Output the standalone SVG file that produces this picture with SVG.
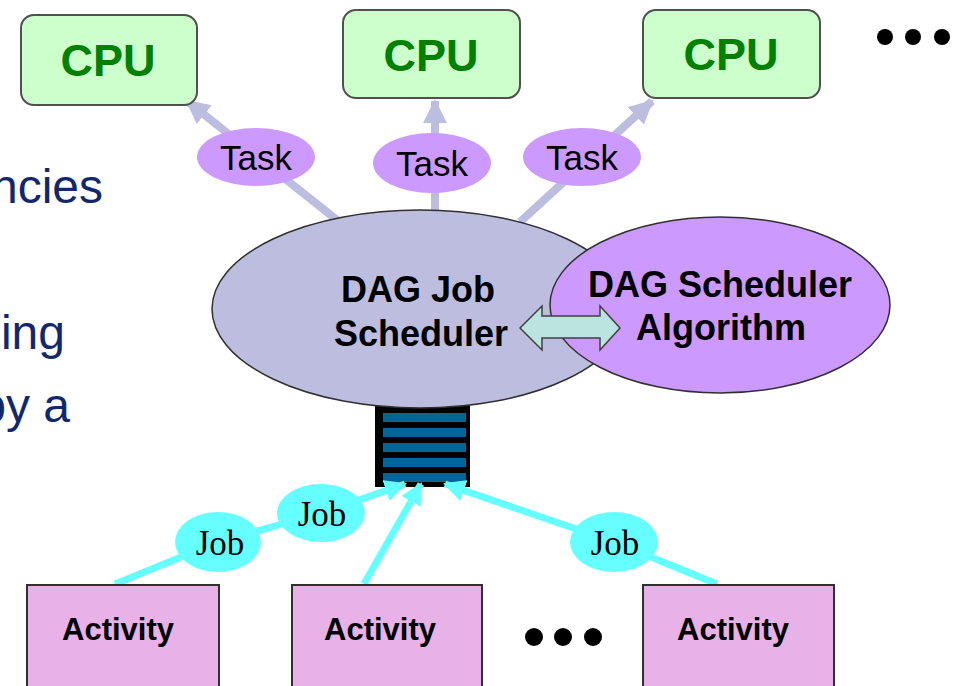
<svg xmlns="http://www.w3.org/2000/svg" width="964" height="686" viewBox="0 0 964 686">
  <style>
    .cpu rect { fill: #CCFFCC; stroke: #505050; stroke-width: 2; }
    .cpu text { font-family: "Liberation Sans", Arial, sans-serif; font-weight: bold; font-size: 45px; fill: #008000; text-anchor: middle; }
    .task ellipse { fill: #CC99FF; }
    .task text { font-family: "Liberation Sans", Arial, sans-serif; font-size: 35px; fill: #000; text-anchor: middle; }
    .job ellipse { fill: #66FFFF; }
    .job text { font-family: "Liberation Serif", "Times New Roman", serif; font-size: 35px; fill: #000; text-anchor: middle; }
    .act rect { fill: #E8B2E8; stroke: #303030; stroke-width: 2; }
    .act text { font-family: "Liberation Sans", Arial, sans-serif; font-weight: bold; font-size: 31px; fill: #000; text-anchor: middle; }
    .big text { font-family: "Liberation Sans", Arial, sans-serif; font-weight: bold; font-size: 36px; fill: #000; text-anchor: middle; }
    .side { font-family: "Liberation Sans", Arial, sans-serif; font-size: 48px; fill: #13286B; text-anchor: end; }
    .lav { fill: none; stroke: #BDBDE0; stroke-width: 8; }
    .cyan { fill: none; stroke: #66FFFF; stroke-width: 7; stroke-linejoin: round; }
    .dot { fill: #000; }
  </style>
  <defs>
    <marker id="headLav" markerUnits="userSpaceOnUse" markerWidth="24" markerHeight="24" refX="22" refY="12" orient="auto">
      <path d="M0,0 L24,12 L0,24 z" fill="#BDBDE0"/>
    </marker>
    <marker id="headCyan" markerUnits="userSpaceOnUse" markerWidth="22" markerHeight="22" refX="20" refY="11" orient="auto">
      <path d="M0,0 L22,11 L0,22 z" fill="#66FFFF"/>
    </marker>
  </defs>

  <!-- side text fragments -->
  <text class="side" x="103" y="203">ncies</text>
  <text class="side" x="65" y="349">ing</text>
  <text class="side" x="70" y="422">by a</text>

  <!-- connectors: scheduler to CPUs -->
  <g id="connectors-top">
    <line class="lav" x1="337" y1="220" x2="187" y2="101" marker-end="url(#headLav)"/>
    <line class="lav" x1="435" y1="212" x2="435" y2="101" marker-end="url(#headLav)"/>
    <line class="lav" x1="520" y1="222" x2="652" y2="101" marker-end="url(#headLav)"/>
  </g>

  <!-- CPUs -->
  <g id="cpu1" class="cpu">
    <rect x="21" y="15" width="176" height="90" rx="13"/>
    <text x="108" y="76">CPU</text>
  </g>
  <g id="cpu2" class="cpu">
    <rect x="343" y="10" width="177" height="88" rx="13"/>
    <text x="431" y="71">CPU</text>
  </g>
  <g id="cpu3" class="cpu">
    <rect x="643" y="10" width="177" height="88" rx="13"/>
    <text x="731" y="70">CPU</text>
  </g>
  <g id="more-cpus">
    <circle class="dot" cx="885" cy="37" r="8"/>
    <circle class="dot" cx="913" cy="37" r="8"/>
    <circle class="dot" cx="942" cy="37" r="8"/>
  </g>

  <!-- tasks -->
  <g id="task1" class="task">
    <ellipse cx="256" cy="157" rx="59" ry="29"/>
    <text x="256" y="170">Task</text>
  </g>
  <g id="task2" class="task">
    <ellipse cx="432" cy="163" rx="59" ry="30"/>
    <text x="432" y="176">Task</text>
  </g>
  <g id="task3" class="task">
    <ellipse cx="582" cy="157" rx="59" ry="29"/>
    <text x="582" y="170">Task</text>
  </g>

  <!-- job queue -->
  <g id="queue">
    <rect x="375" y="405" width="95" height="82" fill="#000"/>
    <rect x="383" y="413" width="83" height="9" fill="#006699"/>
    <rect x="383" y="428" width="83" height="9" fill="#006699"/>
    <rect x="383" y="443" width="83" height="9" fill="#006699"/>
    <rect x="383" y="458" width="83" height="9" fill="#006699"/>
    <rect x="383" y="473" width="83" height="9" fill="#006699"/>
  </g>

  <!-- DAG job scheduler -->
  <g id="job-scheduler" class="big">
    <ellipse cx="420" cy="309" rx="208" ry="99" fill="#BDBDE0" stroke="#303030" stroke-width="1.5"/>
    <text x="418" y="302">DAG Job</text>
    <text x="421" y="346">Scheduler</text>
  </g>

  <!-- DAG scheduler algorithm -->
  <g id="scheduler-algorithm" class="big">
    <ellipse cx="720" cy="305" rx="170" ry="88" fill="#CC99FF" stroke="#303030" stroke-width="1.5"/>
    <text x="720" y="297">DAG Scheduler</text>
    <text x="721" y="340">Algorithm</text>
  </g>

  <!-- two-way link between scheduler and algorithm -->
  <g id="link">
    <path d="M520,328 L542,306 L542,316 L600,316 L600,306 L620,328 L600,350 L600,338 L542,338 L542,350 z" fill="#BBE3E0" stroke="#404040" stroke-width="1.5"/>
  </g>

  <!-- connectors: activities to queue -->
  <g id="connectors-bottom">
    <polyline class="cyan" points="115,584 218,542 321,513 405,484" marker-end="url(#headCyan)"/>
    <line class="cyan" x1="364" y1="584" x2="421" y2="484" marker-end="url(#headCyan)"/>
    <polyline class="cyan" points="717,584 614,542 445,484" marker-end="url(#headCyan)"/>
  </g>

  <!-- jobs -->
  <g id="job1" class="job">
    <ellipse cx="218" cy="542" rx="43" ry="30"/>
    <text x="220" y="555">Job</text>
  </g>
  <g id="job2" class="job">
    <ellipse cx="321" cy="513" rx="44" ry="29"/>
    <text x="322" y="526">Job</text>
  </g>
  <g id="job3" class="job">
    <ellipse cx="614" cy="542" rx="44" ry="30"/>
    <text x="615" y="555">Job</text>
  </g>

  <!-- activities -->
  <g id="activity1" class="act">
    <rect x="27" y="585" width="192" height="120"/>
    <text x="118" y="640">Activity</text>
  </g>
  <g id="activity2" class="act">
    <rect x="292" y="585" width="190" height="120"/>
    <text x="380" y="640">Activity</text>
  </g>
  <g id="activity3" class="act">
    <rect x="643" y="585" width="191" height="120"/>
    <text x="733" y="640">Activity</text>
  </g>
  <g id="more-activities">
    <circle class="dot" cx="534" cy="637" r="9"/>
    <circle class="dot" cx="563" cy="637" r="9"/>
    <circle class="dot" cx="593" cy="637" r="9"/>
  </g>
</svg>
